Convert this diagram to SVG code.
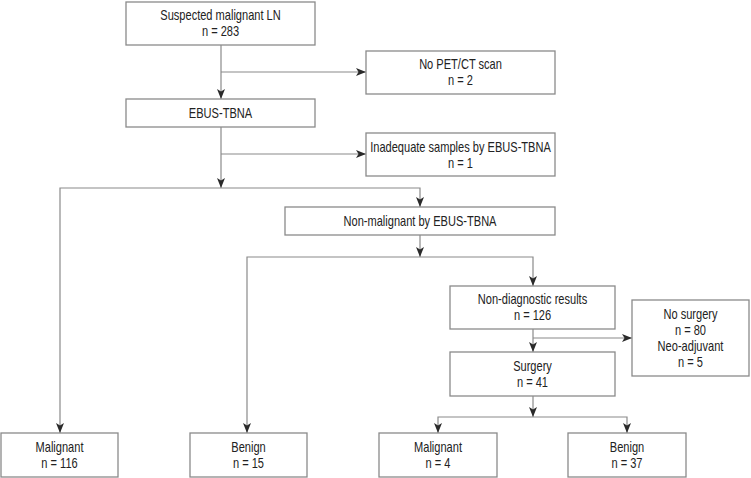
<svg xmlns="http://www.w3.org/2000/svg" width="751" height="478" viewBox="0 0 751 478">
<style>
.box{fill:#fff;stroke:#8a8a8a;stroke-width:1.3}
.ln{fill:none;stroke:#8a8a8a;stroke-width:1.2}
.ar{marker-end:url(#ah)}
text{font-family:"Liberation Sans",Arial,sans-serif;font-size:14px;fill:#222;text-anchor:middle}
</style>
<defs>
<marker id="ah" markerUnits="userSpaceOnUse" markerWidth="10" markerHeight="8" viewBox="0 0 10 8" refX="10" refY="4" orient="auto">
<path d="M0,0 L10,4 L0,8 L2.5,4 Z" fill="#2a2a2a"/>
</marker>
</defs>
<rect width="751" height="478" fill="#fff"/>
<g id="connectors">
<line class="ln ar" x1="221" y1="45" x2="221" y2="99"/>
<line class="ln ar" x1="221" y1="72" x2="366" y2="72"/>
<line class="ln ar" x1="221" y1="127" x2="221" y2="188"/>
<line class="ln ar" x1="221" y1="154" x2="366" y2="154"/>
<polyline class="ln ar" points="221,188 60,188 60,433"/>
<polyline class="ln ar" points="221,188 420,188 420,207"/>
<line class="ln ar" x1="420" y1="235" x2="420" y2="257"/>
<polyline class="ln ar" points="420,257 247,257 247,433"/>
<polyline class="ln ar" points="420,257 533,257 533,286"/>
<line class="ln ar" x1="533" y1="329" x2="533" y2="352"/>
<line class="ln ar" x1="533" y1="338" x2="632" y2="338"/>
<line class="ln ar" x1="533" y1="396" x2="533" y2="417"/>
<polyline class="ln ar" points="533,417 438,417 438,433"/>
<polyline class="ln ar" points="533,417 627,417 627,433"/>
</g>
<g id="suspected">
<rect class="box" x="126" y="2" width="189" height="43"/>
<text transform="translate(220.5 20) scale(0.79 1)">Suspected malignant LN</text>
<text transform="translate(220.5 36) scale(0.79 1)">n = 283</text>
</g>
<g id="nopet">
<rect class="box" x="366" y="51" width="189" height="43"/>
<text transform="translate(460.5 69) scale(0.79 1)">No PET/CT scan</text>
<text transform="translate(460.5 85) scale(0.79 1)">n = 2</text>
</g>
<g id="ebus">
<rect class="box" x="126" y="99" width="189" height="28"/>
<text transform="translate(220.5 118) scale(0.79 1)">EBUS-TBNA</text>
</g>
<g id="inadequate">
<rect class="box" x="366" y="133" width="189" height="43"/>
<text transform="translate(460.5 152) scale(0.79 1)">Inadequate samples by EBUS-TBNA</text>
<text transform="translate(460.5 168) scale(0.79 1)">n = 1</text>
</g>
<g id="nonmalignant">
<rect class="box" x="285" y="207" width="270" height="28"/>
<text transform="translate(420 226) scale(0.79 1)">Non-malignant by EBUS-TBNA</text>
</g>
<g id="nondiagnostic">
<rect class="box" x="450" y="286" width="165" height="43"/>
<text transform="translate(532.5 304) scale(0.79 1)">Non-diagnostic results</text>
<text transform="translate(532.5 320) scale(0.79 1)">n = 126</text>
</g>
<g id="nosurgery">
<rect class="box" x="632" y="300" width="117" height="76"/>
<text transform="translate(690.5 319) scale(0.79 1)">No surgery</text>
<text transform="translate(690.5 335) scale(0.79 1)">n = 80</text>
<text transform="translate(690.5 351) scale(0.79 1)">Neo-adjuvant</text>
<text transform="translate(690.5 367) scale(0.79 1)">n = 5</text>
</g>
<g id="surgery">
<rect class="box" x="450" y="352" width="165" height="44"/>
<text transform="translate(532.5 371) scale(0.79 1)">Surgery</text>
<text transform="translate(532.5 387) scale(0.79 1)">n = 41</text>
</g>
<g id="malignant1">
<rect class="box" x="1" y="433" width="117" height="44"/>
<text transform="translate(59.5 452) scale(0.79 1)">Malignant</text>
<text transform="translate(59.5 468) scale(0.79 1)">n = 116</text>
</g>
<g id="benign1">
<rect class="box" x="190" y="433" width="117" height="44"/>
<text transform="translate(248.5 452) scale(0.79 1)">Benign</text>
<text transform="translate(248.5 468) scale(0.79 1)">n = 15</text>
</g>
<g id="malignant2">
<rect class="box" x="379" y="433" width="118" height="44"/>
<text transform="translate(438 452) scale(0.79 1)">Malignant</text>
<text transform="translate(438 468) scale(0.79 1)">n = 4</text>
</g>
<g id="benign2">
<rect class="box" x="568" y="433" width="118" height="44"/>
<text transform="translate(627 452) scale(0.79 1)">Benign</text>
<text transform="translate(627 468) scale(0.79 1)">n = 37</text>
</g>
</svg>
